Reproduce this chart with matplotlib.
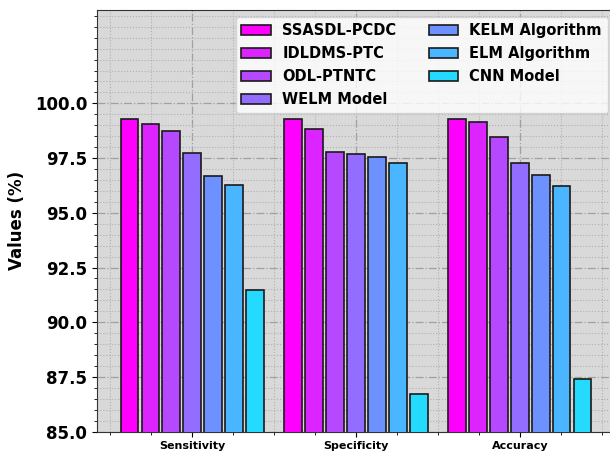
import numpy as np
import matplotlib
matplotlib.use("Agg")
import matplotlib.pyplot as plt
from matplotlib.ticker import AutoMinorLocator, MultipleLocator

# metrics on the x axis
metrics = ["Sensitivity", "Specificity", "Accuracy"]

# one list per model, values in %
models = ["SSASDL-PCDC", "IDLDMS-PTC", "ODL-PTNTC", "WELM Model",
          "KELM Algorithm", "ELM Algorithm", "CNN Model"]
ssasdl_pcdc = [99.28, 99.28, 99.30]
idldms_ptc = [99.05, 98.84, 99.15]
odl_ptntc = [98.73, 97.76, 98.45]
welm_model = [97.75, 97.69, 97.27]
kelm_algorithm = [96.66, 97.54, 96.73]
elm_algorithm = [96.27, 97.27, 96.23]
cnn_model = [91.49, 86.73, 87.42]

series = [ssasdl_pcdc, idldms_ptc, odl_ptntc, welm_model,
          kelm_algorithm, elm_algorithm, cnn_model]

colors = plt.cm.cool(1 - np.arange(len(models)) / len(models))

fig = plt.figure(figsize=(6.1, 4.54), dpi=100)
ax = fig.add_axes([97 / 610, 22.3 / 454, 518 / 610, 421.7 / 454])
ax.set_facecolor("#d9d9d9")

x = np.arange(len(metrics))
step = 0.128
width = 0.105
for i, (name, vals) in enumerate(zip(models, series)):
    ax.bar(x + (i - 3) * step, vals, width, label=name, color=colors[i],
           edgecolor="#1a1a1a", linewidth=1.2, zorder=3)

ax.set_ylim(85, max(max(s) for s in series) * 1.05)
ax.set_xlim(-0.58, 2.58)
ax.yaxis.set_major_locator(MultipleLocator(2.5))
ax.yaxis.set_minor_locator(AutoMinorLocator(5))
ax.xaxis.set_minor_locator(AutoMinorLocator(4))
ax.set_yticks([85, 87.5, 90, 92.5, 95, 97.5, 100])

ax.grid(which="major", linestyle="-.", color="#a0a0a0", linewidth=0.9, zorder=0)
ax.grid(which="minor", linestyle=":", color="#b0b0b0", linewidth=0.8, zorder=0)

ax.set_xticks(x)
ax.set_xticklabels(metrics, fontsize=8, fontweight="bold")
for lab in ax.get_yticklabels():
    lab.set_fontsize(12)
    lab.set_fontweight("bold")
ax.set_ylabel("Values (%)", fontsize=12, fontweight="bold")
ax.yaxis.set_label_coords(-0.137, 0.5)

for sp in ax.spines.values():
    sp.set_color("#333333")

leg = ax.legend(loc="upper right", ncol=2,
                prop={"weight": "bold", "size": 10.5}, framealpha=0.8,
                handlelength=2.0, columnspacing=2.2, labelspacing=0.55)
leg.get_frame().set_edgecolor("#d0d0d0")

fig.savefig("out.png", dpi=100)
